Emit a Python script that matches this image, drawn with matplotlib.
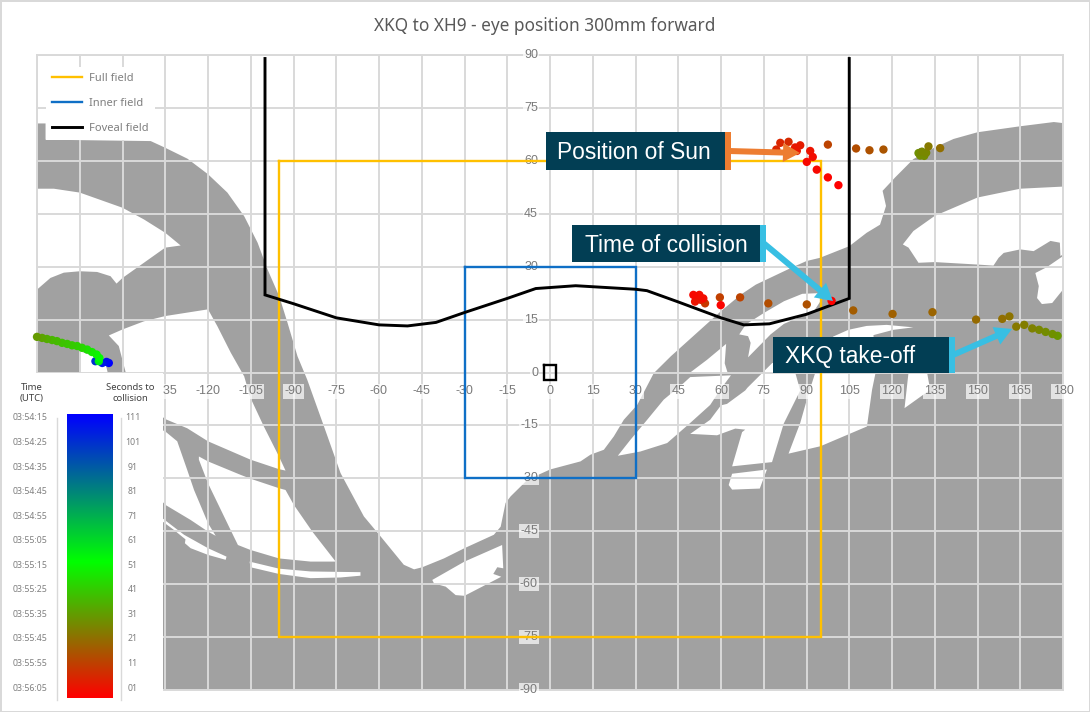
import numpy as np; import matplotlib
matplotlib.use('Agg')
import matplotlib.pyplot as plt
from matplotlib.colors import LinearSegmentedColormap
from matplotlib.patches import FancyArrow, Rectangle

T = 'XKQ to XH9 - eye position 300mm forward'
ticks_x = list(range(-180,181,15))
ticks_y = list(range(-90,91,15))
labels_x = list(range(-135,181,15))	# the colour key hides the ones further left

full_az = [-95,95,95,-95,-95]
full_el = [60,60,-75,-75,60]
inner_az = [-30,30,30,-30,-30]
inner_el = [30,30,-30,-30,30]
foveal_az = [-100,-100,-90,-75,-60,-50,-40,-30,-15,-5,9,30,34,45,60,68,77,90,105,105]
foveal_el = [89,22,19.5,15.5,13.5,13.2,14.2,17,21,23.8,24.6,23.6,23.2,20,15.5,13.5,13.8,16.5,21,89]
eye_az = [-2,2,2,-2,-2]
eye_el = [2,2,-2,-2,2]

# cockpit outline (azimuth, elevation)
mask = [(-180,70.6),(-177,70.6),(-177,66),(-140.1,65.6),(-135,63.7),(-127.2,60.6),(-120,56.2),(-113.2,51),
		(-107.3,44.3),(-102.6,36.8),(-99.1,29.2),(-95,21.6),(-92.1,14.1),(-88.6,4.6),(-85.2,-2),(-79.3,-15.3),
		(-73.5,-28.5),(-65.3,-40.8),(-59.4,-46.5),(-51.3,-54.5),(-47.7,-55.8),(-44.8,-55.2),(-37.2,-52.7),
		(-30,-49.8),(-19.7,-46),(-17.3,-43.7),(-15.6,-37),(-13.8,-35.1),(-7.9,-30.4),(0,-27.5),(10.7,-25.2),
		(14.2,-23.3),(18.9,-21.9),(22.4,-18.1),(25.9,-13.4),(30.6,-9.2),(36.4,-0.2),(42.4,4.6),(54.1,13.1),
		(60,17.4),(67,22.1),(72.2,24.9),(84.2,29.5),(90,31.6),(94.7,32.5),(105,35.8),(111.1,39.6),(115.8,41.9),
		(117.9,47.2),(116.7,51.5),(121.1,55.3),(127.5,60.5),(135,63.8),(141.6,66.2),(150,68.1),(165,69.8),
		(176.8,71),(180,70.7),(180,-90),(-180,-90)]
hole_upper_left = [(-180,52.1),(-174.1,52.1),(-165,51),(-150,46.7),(-142.5,43.4),(-135,39.6),(-129.6,36),(-135,35.4),
		(-142.5,31.1),(-150,26.8),(-152.1,25.2),(-154.2,27.3),(-158.9,28.5),(-165,28.7),(-170.6,28.3),(-175.3,26.8),(-180,23.5)]
hole_mid_left = [(-154.8,10.5),(-150,12.2),(-142.5,14.5),(-135,16),(-120,17.9),(-116.7,13.1),(-112,5.6),(-107.3,-1.1),
		(-105.1,-7.2),(-100.4,-15.3),(-95.1,-23.8),(-92.8,-27.8),(-95.1,-27.4),(-105.1,-24.7),(-120,-19.5),(-127.3,-15.8),
		(-135,-13.2),(-140,-10),(-148.9,0.1),(-151.3,7.5)]
hole_hook = [(-164.8,6),(-160.1,4.6),(-156,2.7),(-155.2,0),(-155.2,-5),(-164.8,-5)]
hole_triangle = [(-123.2,-23.8),(-120,-25.2),(-108.6,-29),(-105.1,-30.1),(-95.1,-32.8),(-92.8,-33.3),(-89.9,-37.5),(-83.4,-45.1),
		(-75.2,-53.6),(-84,-53.6),(-95.1,-52.7),(-105.1,-50.3),(-109.5,-48.9),(-112.1,-44.6),(-120,-31.4),(-123.2,-24.7)]
hole_far_left = [(-135,-16.7),(-130.8,-19.5),(-127.3,-27.6),(-124.9,-33.3),(-120,-42.7),(-117.3,-46.3),(-120,-45.1),(-126.1,-41.8),
		(-135,-37.5),(-136,-36.6),(-140,-36),(-140,-15)]
hole_sliver_a = [(-136,-41.3),(-128.4,-46),(-120,-49.8),(-113.5,-52.2),(-113.8,-53.1),(-120,-51.7),(-126.1,-49.8),(-128.1,-48.4),
		(-127.9,-47.3),(-132,-44.6),(-136,-42.2)]
hole_sliver_b = [(-105.4,-53.6),(-95.1,-55.6),(-84,-56.4),(-66.5,-56.6),(-66.5,-57.6),(-73.5,-58.1),(-84,-58.3),(-95.1,-57.1),(-105.1,-55.2)]
hole_lower_mid = [(-41.3,-58.8),(-30,-53.6),(-16.8,-48.9),(-16.4,-55.5),(-18.5,-55.2),(-19.9,-57.1),(-17.1,-57.9),(-30,-63.3),
		(-33.1,-63.1),(-36.6,-60.7),(-40.7,-59.8)]
hole_r1 = [(49.2,0),(55.1,3.6),(61.8,8.1),(61.3,2.6),(62.3,0),(55,0)]
hole_r2 = [(23.8,-23.6),(28.2,-19.1),(34.1,-13.4),(39.9,-7.7),(46.9,-3),(49.2,-1.3),(63.5,-0.8),(59.7,-4.9),(56.2,-9.2),(49.2,-14.3),
		(41.1,-20),(31.7,-22.4)]
hole_wedge = [(66.4,10.8),(68.7,13.6),(75.1,16.9),(82.1,20.2),(88.5,22.3),(94.4,22.5),(94.9,20.2),(92.6,17.4),(82.1,13.8),(77.4,10.8),
		(69.5,4.3),(70.4,8.4),(69.5,10.3)]
hole_r3 = [(49.2,-17.4),(56.2,-13.4),(60,-9.3),(62.1,-8.9),(68.5,-5.1),(69.3,-4.3),(78,2.7),(85,3),(87.8,-5.1),(82,-14.5),(77.9,-25.4),
		(63.9,-26.6),(67.4,-16.9),(68.5,-16.2),(65,-15.9),(58.6,-17.8)]
hole_r4 = [(63.9,-28.7),(76.1,-27.5),(73.6,-32.9),(63.9,-33.2),(62.7,-31.9)]
hole_r5 = [(83.7,-23),(87.8,-14.3),(90.8,-5.8),(93.1,0),(97,8),(99.4,10.2),(104.7,12.1),(111.1,13.2),(118.1,13.5),(127.5,12.8),(120.5,12.1),
		(113.5,10.6),(114.2,-0.2),(113,-4.9),(111.2,-15.3),(94.9,-20.9)]
hole_r6 = [(124.4,-10.1),(125.8,0),(132.3,0),(133.4,-4.9)]
hole_crescent = [(180,52.7),(165,52.1),(150,49.6),(135,44.4),(127.5,40.1),(123.8,36.3),(125.8,35.4),(129.3,31.1),(135,31.3),(150,30.6),
		(155.6,30.3),(157.4,32.5),(159.2,33.9),(165,34.9),(169.7,34.4),(175.6,37.3),(178.9,36.8),(179.1,33),(180,33.5)]
hole_right = [(180,33),(174.4,29.9),(170.3,28.2),(171.5,24.5),(170.9,21.1),(172.6,19.4),(176.2,19.7),(180,23.5)]
holes = [hole_upper_left,hole_mid_left,hole_hook,hole_triangle,hole_far_left,hole_sliver_a,hole_sliver_b,hole_lower_mid,
		hole_r1,hole_r2,hole_wedge,hole_r3,hole_r4,hole_r5,hole_r6,hole_crescent,hole_right]

# sun track
sun_az = [130.2,130.7,130.5,129.3,129.9,131.3,132,130.5,132.8,136.9,117,112.1,107.4,97.5,83.7,80.8,79.4,87.8,86,86.6,91.3,92.2,90.1,93.6,97.5,101.2]
sun_el = [62.4,62,61.8,62.2,61.5,61.4,62.3,62.6,64.1,63.6,63.2,63,63.5,64.6,65.4,65.1,63.2,64.4,63.8,62.8,62.8,61.1,59.7,57.5,55.3,53.1]
sun_s = [101,81,31,31,30,30,29,29,26,24,19,18,17,15,10,9,9,7,6,6,5,4,3,3,2,1]
# aircraft track, goes round from -155 to +180
ac_az = [-154.8,-155.6,-157.1,-159.5,-158.3,-158.1,-159.1,-160.7,-162.4,-164.2,-165.9,-167.7,-169.4,-171.2,-173,-174.7,-176.5,-178.2,-180,
		178.1,176.3,173.9,171.6,169.2,166.4,163.6,161.2,158.7,149.5,134.2,120.2,106.4,90.1,76.6,66.7,59.6,54.4,52.9,51.5,50.9,53.8,52.4,50.3,59.9,98.8]
ac_el = [2.7,3,2.7,3.2,3.2,4.1,5.1,5.8,6.5,7,7.5,7.7,8.1,8.4,8.9,9.2,9.5,9.8,10.1,
		10.4,10.9,11.5,12.1,12.5,13.5,13,15.9,15.2,15,17.1,16.6,17.6,19.3,19.6,21.3,21.3,19.6,20.6,21,20.1,21,22,22,19.1,20.3]
ac_s = [111,108,105,100,58,54,52,50,48,46,44,43,42,41,40,39,37,35,33,
		32,31,30,29,28,27,26,25,24,23,22,21,20,18,17,15,14,13,7,6,5,4,4,3,2,1]

# colour scale
sec_ticks = ['111','101','91','81','71','61','51','41','31','21','11','01']
time_ticks = ['03:54:15','03:54:25','03:54:35','03:54:45','03:54:55','03:55:05','03:55:15','03:55:25','03:55:35','03:55:45','03:55:55','03:56:05']

cmap = LinearSegmentedColormap.from_list('t',[(0,'#ff0000'),(0.48,'#00ff00'),(1,'#0000ff')])
GRID = '#d9d9d9'; TXT = '#7a7a7a'; NAVY = '#023e54'; ORANGE = '#ed7d31'; CYAN = '#38bfe3'
plt.rcParams['font.family'] = ['Noto Sans','DejaVu Sans']

fig = plt.figure(figsize=(10.9,7.12),dpi=100,linewidth=2,edgecolor=GRID)
ax = fig.add_axes([37/1090,1-690/712,1026/1090,635/712])
ax.set_xlim(-180,180); ax.set_ylim(-90,90)
ax.fill(*zip(*mask),color='#a1a1a1',lw=0,zorder=1)
for h in holes: ax.fill(*zip(*h),color='white',lw=0,zorder=1.1)

ax.set_axisbelow(False); ax.set_xticks(ticks_x); ax.set_yticks(ticks_y)
ax.set_xticklabels([]); ax.set_yticklabels([])
ax.grid(color=GRID,lw=1.4); ax.tick_params(length=0)
for s in ax.spines: ax.spines[s].set_color(GRID); ax.spines[s].set_linewidth(1.4)
# labels sit on the zero lines, not at the edges
box = dict(fc='white',ec='none',alpha=0.7,pad=0.8)
for v in labels_x:
	ax.annotate(str(v),(v,0),xytext=(0,-19),textcoords='offset pixels',ha='center',va='center',fontsize=9,color=TXT,
				family='Liberation Sans',bbox=box,zorder=2.8)
for v in ticks_y:
	ax.annotate(str(v),(0,v),xytext=(-12,0),textcoords='offset pixels',ha='right',va='center',fontsize=9,color=TXT,
				family='Liberation Sans',bbox=box,zorder=2.8,annotation_clip=False)

ax.plot(full_az,full_el,color='#ffc000',lw=1.7,label='Full field',zorder=3,solid_joinstyle='miter')
ax.plot(inner_az,inner_el,color='#0f6fc6',lw=1.7,label='Inner field',zorder=3,solid_joinstyle='miter')
ax.plot(foveal_az,foveal_el,color='black',lw=2.1,label='Foveal field',zorder=3,solid_joinstyle='miter')
ax.plot(eye_az,eye_el,color='black',lw=1.7,zorder=3,solid_joinstyle='miter')

for a,e,c in ((sun_az,sun_el,sun_s),(ac_az,ac_el,ac_s)):
	a,e,c = np.array(a),np.array(e),np.array(c); o = np.argsort(-c)
	ax.scatter(a[o],e[o],c=c[o],cmap=cmap,vmin=1,vmax=111,s=36,lw=0,zorder=4,clip_on=False)

leg = ax.legend(loc='upper left',bbox_to_anchor=(9/1026,1-12/635),fontsize=8,labelspacing=1.27,handlelength=2.7,handletextpad=0.65,
				borderpad=0.55,borderaxespad=0,fancybox=False,framealpha=1,edgecolor='none',labelcolor='#7f7f7f')
leg.set_zorder(5)
fig.text(545/1090,1-26/712,T,ha='center',va='center',fontsize=12.4,color='#595959')

# overlay in picture pixels for the call-outs and the colour key
ov = fig.add_axes([0,0,1,1],facecolor='none'); ov.set_xlim(0,1090); ov.set_ylim(712,0); ov.axis('off')
ov.add_patch(Rectangle((2,373),161,337,fc='white',ec='none'))
ov.text(31.7,393,'Time\n(UTC)',ha='center',va='center',fontsize=6.8,color='#404040',linespacing=1.25)
ov.text(130.7,393,'Seconds to\ncollision',ha='center',va='center',fontsize=6.8,color='#404040',linespacing=1.25)
for i,(tt,ss) in enumerate(zip(time_ticks,sec_ticks)):
	ov.text(30,418+i*24.55,tt,ha='center',va='center',fontsize=6.3,color='#7f7f7f')
	ov.text(132.7,418+i*24.55,ss,ha='center',va='center',fontsize=6.3,color='#7f7f7f')
ov.plot([57,57],[418,700],color=GRID,lw=1); ov.plot([121,121],[418,700],color=GRID,lw=1)
cb = fig.add_axes([67/1090,1-698/712,46/1090,284/712])
cb.imshow(np.linspace(111,1,256)[:,None],cmap=cmap,vmin=1,vmax=111,aspect='auto'); cb.axis('off')

for x0,y0,x1,y1,col,txt,tx,ty,ax1,ay1 in (
		(546,132,725,170,ORANGE,'Position of Sun',557,152.5,800,153),
		(572,225,760,262,CYAN,'Time of collision',585,245,833,301),
		(773,337,949,373,CYAN,'XKQ take-off',785,356,1012,329)):
	ov.add_patch(Rectangle((x0,y0),x1-x0,y1-y0,fc=NAVY,ec='none',zorder=6))
	ov.add_patch(Rectangle((x1,y0),6,y1-y0,fc=col,ec='none',zorder=6))
	sx,sy = x1+4,(y0+y1)/2
	ov.add_patch(FancyArrow(sx,sy,ax1-sx,ay1-sy,width=6,head_width=19,head_length=17,length_includes_head=True,fc=col,ec='none',zorder=5))
	ov.text(tx,ty,txt,ha='left',va='center',fontsize=16.4,color='white',family=['Liberation Sans'],zorder=7)

plt.savefig('out.png',dpi=100)
